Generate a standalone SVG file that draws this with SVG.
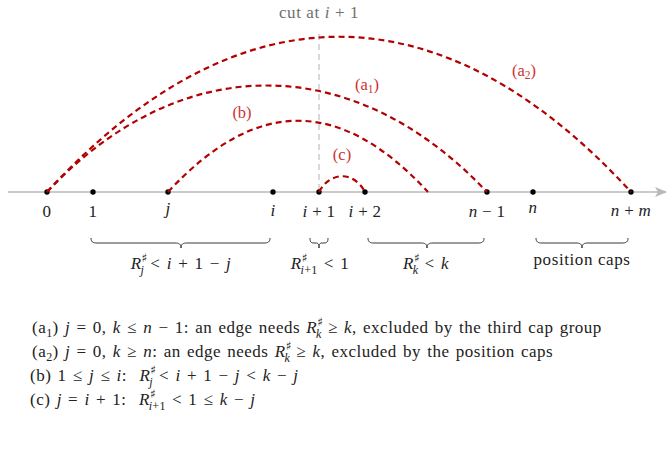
<svg xmlns="http://www.w3.org/2000/svg" width="672" height="449" viewBox="0 0 672 449">
<defs>
<style>
text{font-family:"Liberation Serif","DejaVu Serif",serif;fill:#222;font-size:17px}
.lab{text-anchor:middle;letter-spacing:0.3px}
.it{font-style:italic}
.sh{font-family:"DejaVu Sans",sans-serif;font-size:12px;font-style:normal;letter-spacing:0}
.sb{font-size:12px;letter-spacing:0.3px}
.arc{fill:none;stroke:#b30000;stroke-width:2.2;stroke-dasharray:6 4}
.arclab{font-size:16.5px;fill:#cc3333;text-anchor:middle}
.dot{fill:#000}
.brace{fill:none;stroke:#222;stroke-width:0.9}
.bl{text-anchor:middle;letter-spacing:0.5px;word-spacing:1.5px}
.body{letter-spacing:0.5px;word-spacing:1.5px}
</style>
<marker id="ah" viewBox="0 0 12 10" refX="11" refY="5" markerWidth="12" markerHeight="10" markerUnits="userSpaceOnUse" orient="auto">
<path d="M0,0 L12,5 L0,10 L3,5 Z" fill="#b8b8b8"/>
</marker>
</defs>
<rect width="672" height="449" fill="#fff"/>

<g id="axis">
<line x1="8" y1="192" x2="666" y2="192" stroke="#b8b8b8" stroke-width="1.3" marker-end="url(#ah)"/>
<line x1="319" y1="34" x2="319" y2="192" stroke="#c4c4c4" stroke-width="1.3" stroke-dasharray="6 4"/>
<text x="319" y="18" style="fill:#707070;text-anchor:middle;letter-spacing:0.6px">cut at <tspan class="it" style="fill:#707070">i</tspan> + 1</text>
</g>

<g id="n0"><circle class="dot" cx="47" cy="192" r="2.7"/><text class="lab" x="47" y="217">0</text></g>
<g id="n1"><circle class="dot" cx="93" cy="192" r="2.7"/><text class="lab" x="93" y="217">1</text></g>
<g id="nj"><circle class="dot" cx="168" cy="192" r="2.7"/><text class="lab it" x="168" y="214">j</text></g>
<g id="ni"><circle class="dot" cx="273" cy="192" r="2.7"/><text class="lab it" x="273" y="216">i</text></g>
<g id="ni1"><circle class="dot" cx="319" cy="192" r="2.7"/><text class="lab" x="319" y="217"><tspan class="it">i</tspan> + 1</text></g>
<g id="ni2"><circle class="dot" cx="365" cy="192" r="2.7"/><text class="lab" x="365" y="217"><tspan class="it">i</tspan> + 2</text></g>
<g id="nn1"><circle class="dot" cx="487" cy="192" r="2.7"/><text class="lab" x="487" y="217"><tspan class="it">n</tspan> − 1</text></g>
<g id="nn"><circle class="dot" cx="533" cy="192" r="2.7"/><text class="lab it" x="533" y="213">n</text></g>
<g id="nnm"><circle class="dot" cx="631" cy="192" r="2.7"/><text class="lab" x="631" y="216"><tspan class="it">n</tspan> + <tspan class="it">m</tspan></text></g>

<g id="connectors">
<path class="arc" d="M47,192 C237,-15 441,-15 631,192"/>
<path class="arc" d="M47,192 C180,50 353,50 487,192"/>
<path class="arc" d="M168,192 C256,97 340,97 428,192"/>
<path class="arc" d="M319,192 C330,171 354,171 365,192"/>
<text class="arclab" x="367" y="90">(a<tspan font-size="11.5" dy="3">1</tspan><tspan dy="-3">)</tspan></text>
<text class="arclab" x="524" y="76">(a<tspan font-size="11.5" dy="3">2</tspan><tspan dy="-3">)</tspan></text>
<text class="arclab" x="242" y="118">(b)</text>
<text class="arclab" x="342" y="160">(c)</text>
</g>

<g id="braces">
<path class="brace" d="M91,238 C91,242 93,243 97,243 L175,243 C179,243 181,244 181,248 C181,244 183,243 187,243 L264,243 C268,243 270,242 270,238"/>
<path class="brace" d="M310,238 C310,242 311,243 314,243 L316,243 C318,243 319,244 319,248 C319,244 320,243 322,243 L324,243 C327,243 328,242 328,238"/>
<path class="brace" d="M368,238 C368,242 370,243 374,243 L421,243 C425,243 427,244 427,248 C427,244 429,243 433,243 L478,243 C482,243 484,242 484,238"/>
<path class="brace" d="M536,238 C536,242 538,243 542,243 L576,243 C580,243 582,244 582,248 C582,244 584,243 588,243 L622,243 C626,243 628,242 628,238"/>
<text class="bl" x="181" y="269"><tspan class="it">R</tspan><tspan class="sh" dy="-7">♯</tspan><tspan class="it sb" dx="-7" dy="12">j</tspan><tspan dy="-5"> &lt; </tspan><tspan class="it">i</tspan> + 1 − <tspan class="it">j</tspan></text>
<text class="bl" x="320" y="269"><tspan class="it">R</tspan><tspan class="sh" dy="-7">♯</tspan><tspan class="sb" dx="-7" dy="12"><tspan class="it">i</tspan>+1</tspan><tspan dy="-5"> &lt; 1</tspan></text>
<text class="bl" x="426" y="269"><tspan class="it">R</tspan><tspan class="sh" dy="-7">♯</tspan><tspan class="it sb" dx="-7" dy="12">k</tspan><tspan dy="-5"> &lt; </tspan><tspan class="it">k</tspan></text>
<text class="lab" x="582" y="265" style="letter-spacing:0.6px">position caps</text>
</g>

<g id="notes" class="body">
<text x="32" y="333">(a<tspan class="sb" dy="4">1</tspan><tspan dy="-4">) </tspan><tspan class="it">j</tspan> = 0, <tspan class="it">k</tspan> ≤ <tspan class="it">n</tspan> − 1: an edge needs <tspan class="it">R</tspan><tspan class="sh" dy="-7">♯</tspan><tspan class="it sb" dx="-7" dy="12">k</tspan><tspan dy="-5"> ≥ </tspan><tspan class="it">k</tspan>, excluded by the third cap group</text>
<text x="32" y="357">(a<tspan class="sb" dy="4">2</tspan><tspan dy="-4">) </tspan><tspan class="it">j</tspan> = 0, <tspan class="it">k</tspan> ≥ <tspan class="it">n</tspan>: an edge needs <tspan class="it">R</tspan><tspan class="sh" dy="-7">♯</tspan><tspan class="it sb" dx="-7" dy="12">k</tspan><tspan dy="-5"> ≥ </tspan><tspan class="it">k</tspan>, excluded by the position caps</text>
<text x="30" y="381">(b) 1 ≤ <tspan class="it">j</tspan> ≤ <tspan class="it">i</tspan>:&#160; <tspan class="it">R</tspan><tspan class="sh" dy="-7">♯</tspan><tspan class="it sb" dx="-7" dy="12">j</tspan><tspan dy="-5"> &lt; </tspan><tspan class="it">i</tspan> + 1 − <tspan class="it">j</tspan> &lt; <tspan class="it">k</tspan> − <tspan class="it">j</tspan></text>
<text x="30" y="405">(c) <tspan class="it">j</tspan> = <tspan class="it">i</tspan> + 1:&#160; <tspan class="it">R</tspan><tspan class="sh" dy="-7">♯</tspan><tspan class="sb" dx="-7" dy="12"><tspan class="it">i</tspan>+1</tspan><tspan dy="-5"> &lt; 1 ≤ </tspan><tspan class="it">k</tspan> − <tspan class="it">j</tspan></text>
</g>
</svg>
